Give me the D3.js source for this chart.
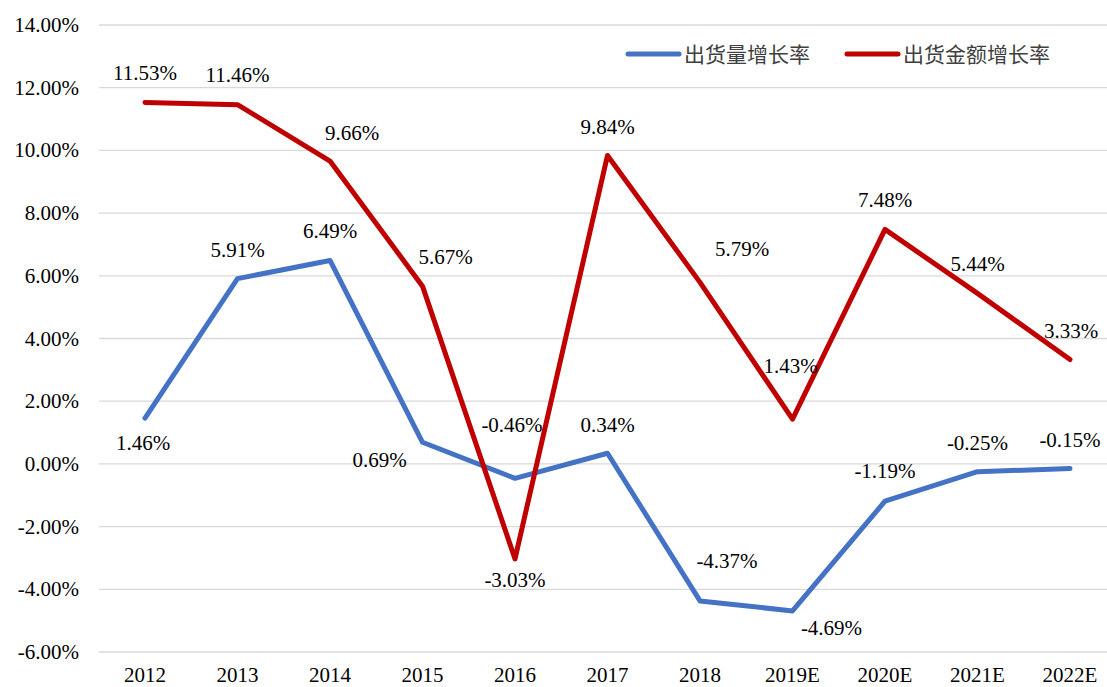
<!DOCTYPE html>
<html>
<head>
<meta charset="utf-8">
<script src="https://cdn.jsdelivr.net/npm/d3@7"></script>
<style>
  body { margin: 0; background: #fff; }
  svg { display: block; }
  .num { font-family: "Liberation Serif", "Times New Roman", Tinos, "DejaVu Serif", serif; }
</style>
</head>
<body>
<div id="chart"></div>
<script>
// 年份和两条增长率（单位 %）
const years = ["2012", "2013", "2014", "2015", "2016", "2017", "2018", "2019E", "2020E", "2021E", "2022E"];
const volumeGrowth = [1.46, 5.91, 6.49, 0.69, -0.46, 0.34, -4.37, -4.69, -1.19, -0.25, -0.15];
const valueGrowth = [11.53, 11.46, 9.66, 5.67, -3.03, 9.84, 5.79, 1.43, 7.48, 5.44, 3.33];
const yTicks = [-6, -4, -2, 0, 2, 4, 6, 8, 10, 12, 14];
const seriesNames = ["出货量增长率", "出货金额增长率"];

// 数据标签的摆放位置（相对数据点的偏移）
const volumeLabelPos = [[-2, 32], [0, -22], [0, -22], [-43, 25], [-3, -46], [0, -21], [27, -33], [39, 24], [0, -23], [0, -22], [0, -22]];
const valueLabelPos = [[0, -22], [0, -23], [22, -21], [23, -22], [0, 28], [0, -21], [42, -26], [-2, -46], [0, -22], [0, -22], [1, -22]];

const width = 1107, height = 687;
const margin = { top: 25, left: 99, bottom: 35 };

const svg = d3.select("#chart").append("svg")
  .attr("width", width)
  .attr("height", height);

const x = d3.scalePoint()
  .domain(years)
  .range([145, 1070]);

const y = d3.scaleLinear()
  .domain([-6, 14])
  .range([652, 25]);

// 网格线
svg.append("g")
  .selectAll("line")
  .data(yTicks)
  .enter()
  .append("line")
  .attr("x1", margin.left)
  .attr("x2", width)
  .attr("y1", d => y(d))
  .attr("y2", d => y(d))
  .attr("stroke", "#d9d9d9")
  .attr("stroke-width", 1.3);

// y 轴刻度
svg.append("g")
  .selectAll("text")
  .data(yTicks)
  .enter()
  .append("text")
  .attr("class", "num")
  .attr("x", 79)
  .attr("y", d => y(d) + 7)
  .attr("text-anchor", "end")
  .style("font-size", "21px")
  .attr("fill", "#000")
  .text(d => d.toFixed(2) + "%");

// x 轴刻度
svg.append("g")
  .selectAll("text")
  .data(years)
  .enter()
  .append("text")
  .attr("class", "num")
  .attr("x", d => x(d))
  .attr("y", 682)
  .attr("text-anchor", "middle")
  .style("font-size", "21px")
  .attr("fill", "#000")
  .text(d => d);

const series = [
  { name: seriesNames[0], values: volumeGrowth, color: "#4472c4", pos: volumeLabelPos },
  { name: seriesNames[1], values: valueGrowth, color: "#c00000", pos: valueLabelPos },
];

const line = d3.line()
  .x((d, i) => x(years[i]))
  .y(d => y(d));

series.forEach(s => {
  svg.append("path")
    .datum(s.values)
    .attr("d", line)
    .attr("fill", "none")
    .attr("stroke", s.color)
    .attr("stroke-width", 5)
    .attr("stroke-linejoin", "round")
    .attr("stroke-linecap", "round");
});

// 数据标签
series.forEach(s => {
  svg.append("g")
    .selectAll("text")
    .data(s.values)
    .enter()
    .append("text")
    .attr("class", "num")
    .attr("x", (d, i) => x(years[i]) + s.pos[i][0])
    .attr("y", (d, i) => y(d) + s.pos[i][1])
    .attr("text-anchor", "middle")
    .style("font-size", "21px")
    .attr("fill", "#000")
    .text(d => d.toFixed(2) + "%");
});

// 图例
const legendX = [628, 847];
const legend = svg.append("g");
series.forEach((s, i) => {
  legend.append("line")
    .attr("x1", legendX[i])
    .attr("x2", legendX[i] + 51)
    .attr("y1", 54)
    .attr("y2", 54)
    .attr("stroke", s.color)
    .attr("stroke-width", 5)
    .attr("stroke-linecap", "round");
  legend.append("text")
    .attr("x", legendX[i] + 56)
    .attr("y", 62)
    .style("font-family", "'Noto Sans CJK SC', sans-serif")
    .style("font-size", "21px")
    .attr("fill", "#404040")
    .text(s.name);
});
</script>
</body>
</html>
